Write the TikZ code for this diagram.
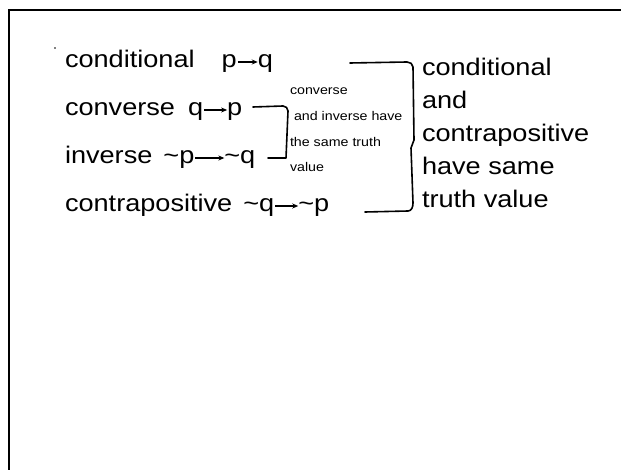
\documentclass[tikz,border=0pt]{standalone}
\usepackage{fontspec}
\setmainfont[FakeStretch=1.13]{Liberation Sans}
\usetikzlibrary{arrows.meta, positioning}

\begin{document}
\begin{tikzpicture}[
    x=1pt, y=-1pt,
    every node/.style={inner sep=0pt, outer sep=0pt},
    big/.style={font=\fontsize{24}{33.2}\selectfont},
    small/.style={font=\fontsize{12.6}{25.7}\selectfont},
    imp/.style={-{Stealth[length=6pt, width=5pt]}, line width=1.6pt, shorten <=1pt},
    ink/.style={line width=1.6pt, line cap=round, line join=round}
]
\useasboundingbox (0,0) rectangle (621,470);

% Frame
\draw[line width=2.4pt] (621,10) -- (9,10) -- (9,470);
\fill (55,48) circle (0.9);

% Nodes
\node[big, anchor=base west] (cond) at (65,68) {conditional};
\node[big, base right=27pt of cond] (p1) {p};
\node[big, base right=21pt of p1] (q1) {q};

\node[big, anchor=base west] (conv) at (65,116) {converse};
\node[big, base right=13pt of conv] (q2) {q};
\node[big, base right=24pt of q2] (p2) {p};

\node[big, anchor=base west] (inv) at (65,164) {inverse};
\node[big, base right=11pt of inv] (np3) {\textasciitilde p};
\node[big, base right=30pt of np3] (nq3) {\textasciitilde q};

\node[big, anchor=base west] (contra) at (65,212) {contrapositive};
\node[big, base right=11pt of contra] (nq4) {\textasciitilde q};
\node[big, base right=24pt of nq4] (np4) {\textasciitilde p};

% multi-line nodes sit on the baseline of their last line
\node[small, align=left, anchor=base west] (note) at (290,172) {converse\\\hspace{4pt}and inverse have\\the same truth\\value};
\node[big, align=left, anchor=base west] (sum) at (422,208) {conditional\\and\\contrapositive\\have same\\truth value};

% Connections
\draw[imp] ([yshift=6pt]p1.base east) -- ([yshift=6pt]q1.base west);
\draw[imp] ([yshift=6pt]q2.base east) -- ([yshift=6pt]p2.base west);
\draw[imp] ([yshift=6pt]np3.base east) -- ([yshift=6pt]nq3.base west);
\draw[imp] ([yshift=6pt]nq4.base east) -- ([yshift=6pt]np4.base west);

% Brackets
\draw[ink] (253,107) -- (283,106) to[out=0, in=90] (288,111) -- (286,158) -- (268,158);
\draw[ink] (350,63) -- (407,62) to[out=0, in=90] (413,67) -- (414,140) -- (411,148) -- (413,203) to[out=-90, in=0] (408,211) -- (365,212);

\end{tikzpicture}
\end{document}
